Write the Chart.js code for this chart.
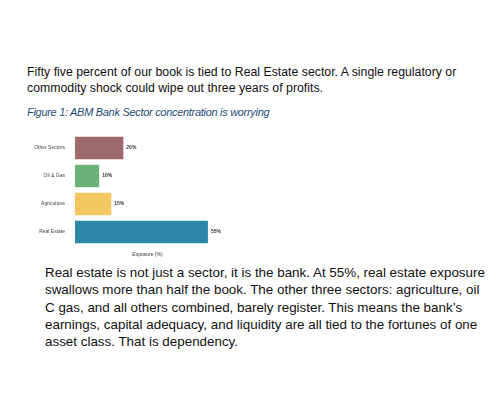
<!DOCTYPE html>
<html>
<head>
<meta charset="utf-8">
<script src="https://cdn.jsdelivr.net/npm/chart.js@4"></script>
<style>
  body { margin: 0; width: 500px; height: 400px; background: #fff; font-family: "Liberation Sans Narrow", "Liberation Sans", Arial, sans-serif; position: relative; overflow: hidden; }
  .p1 { position: absolute; left: 27px; top: 64px; width: 470px; font-size: 12.3px; line-height: 16px; color: #111; }
  .fig { position: absolute; left: 27px; top: 106px; font-family: "Liberation Sans", Arial, sans-serif; font-size: 11px; font-style: italic; color: #1f4e79; letter-spacing: -0.3px; }
  .p2 { position: absolute; left: 45px; top: 264px; width: 445px; font-size: 13.4px; line-height: 17.3px; color: #111; }
  #wrap { position: absolute; left: 20px; top: 125px; width: 260px; height: 135px; }
</style>
</head>
<body>
<div class="p1">Fifty five percent of our book is tied to Real Estate sector. A single regulatory or commodity shock could wipe out three years of profits.</div>
<div class="fig">Figure 1: ABM Bank Sector concentration is worrying</div>
<div id="wrap"><canvas id="chart"></canvas></div>
<div class="p2">Real estate is not just a sector, it is the bank. At 55%, real estate exposure swallows more than half the book. The other three sectors: agriculture, oil C gas, and all others combined, barely register. This means the bank’s earnings, capital adequacy, and liquidity are all tied to the fortunes of one asset class. That is dependency.</div>
<script>
// chart data
const sectors = ['Other Sectors', 'Oil & Gas', 'Agriculture', 'Real Estate'];
const exposure = [20, 10, 15, 55];
const barColors = ['#9c6a6c', '#6cb07a', '#f3c760', '#2c87aa'];

// small % labels at the end of each bar
const valueLabels = {
  id: 'valueLabels',
  afterDatasetsDraw(chart) {
    const ctx = chart.ctx;
    const meta = chart.getDatasetMeta(0);
    ctx.save();
    ctx.font = 'bold 5px Arial';
    ctx.fillStyle = '#333';
    ctx.textBaseline = 'middle';
    meta.data.forEach((bar, i) => {
      ctx.fillText(exposure[i] + '%', bar.x + 3, bar.y);
    });
    ctx.restore();
  }
};

new Chart(document.getElementById('chart'), {
  type: 'bar',
  data: {
    labels: sectors,
    datasets: [{ data: exposure, backgroundColor: barColors, barPercentage: 0.8, categoryPercentage: 1 }]
  },
  options: {
    indexAxis: 'y',
    responsive: true,
    maintainAspectRatio: false,
    animation: false,
    layout: { padding: { top: 9, right: 60, bottom: 0 } },
    plugins: { legend: { display: false }, tooltip: { enabled: false } },
    scales: {
      x: {
        min: 0, max: 60,
        grid: { display: false },
        border: { display: false },
        ticks: { display: false },
        title: { display: true, text: 'Exposure (%)', font: { size: 5, family: 'Arial' }, color: '#333', padding: 2 },
        afterFit(scale) { scale.height = 14; }
      },
      y: {
        grid: { display: false },
        border: { display: false },
        ticks: { font: { size: 5, family: 'Arial' }, color: '#444', padding: 2 },
        afterFit(scale) { scale.width = 55; }
      }
    }
  },
  plugins: [valueLabels]
});
</script>
</body>
</html>
